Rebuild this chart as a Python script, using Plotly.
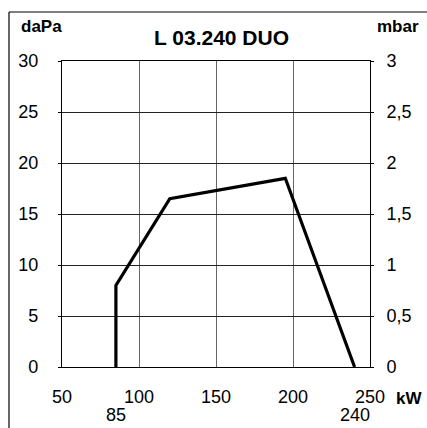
import plotly.graph_objects as go

# Data
power_kw = [85, 85, 120, 195, 240]
pressure_dapa = [0, 8, 16.5, 18.5, 0]

x_ticks = [50, 100, 150, 200, 250]
x_tick_labels = ["50", "100", "150", "200", "250"]
x_extra = [85, 240]
y_left_ticks = [0, 5, 10, 15, 20, 25, 30]
y_right_ticks = [0, 0.5, 1, 1.5, 2, 2.5, 3]
y_right_labels = ["0", "0,5", "1", "1,5", "2", "2,5", "3"]

W, H = 427, 428
ML, MR, MT, MB = 62, 57, 61, 61
pw, ph = W - ML - MR, H - MT - MB

FONT = "Liberation Sans, Arial, Helvetica, sans-serif"

fig = go.Figure()
fig.add_trace(go.Scatter(x=power_kw, y=pressure_dapa, mode="lines",
                         line=dict(color="black", width=3.2),
                         showlegend=False, hoverinfo="skip"))
# invisible trace for right axis
fig.add_trace(go.Scatter(x=[50], y=[0], yaxis="y2", mode="markers",
                         marker=dict(opacity=0), showlegend=False, hoverinfo="skip"))

fig.update_layout(
    width=W, height=H,
    margin=dict(l=ML, r=MR, t=MT, b=MB),
    paper_bgcolor="white", plot_bgcolor="white",
    font=dict(family=FONT, size=18, color="black"),
    xaxis=dict(range=[50, 250], tickvals=x_ticks, ticktext=x_tick_labels,
               showgrid=True, gridcolor="#666", gridwidth=1,
               showline=True, linecolor="black", linewidth=1.2, mirror=True,
               ticks="", ticklabelstandoff=13, zeroline=False, fixedrange=True),
    yaxis=dict(range=[0, 30], tickvals=y_left_ticks,
               showgrid=True, gridcolor="#222", gridwidth=1,
               showline=True, linecolor="black", linewidth=1.2, mirror=True,
               ticks="outside", ticklen=3, tickcolor="black",
               ticklabelstandoff=16, zeroline=False, fixedrange=True),
    yaxis2=dict(range=[0, 3], tickvals=y_right_ticks, ticktext=y_right_labels,
                overlaying="y", side="right", showgrid=False,
                ticks="outside", ticklen=3, tickcolor="black",
                ticklabelstandoff=9, zeroline=False, fixedrange=True),
)

def px_x(px):
    return (px - ML) / pw

def px_y(py):
    return 1 - (py - MT) / ph

annotations = [
    dict(text="<b>L 03.240 DUO</b>", x=px_x(222), y=px_y(37), font=dict(size=21)),
    dict(text="<b>daPa</b>", x=px_x(41), y=px_y(27), font=dict(size=17)),
    dict(text="<b>mbar</b>", x=px_x(398), y=px_y(27), font=dict(size=17)),
    dict(text="<b>kW</b>", x=px_x(409), y=px_y(398), font=dict(size=17)),
]
for a in annotations:
    a.update(xref="paper", yref="paper", showarrow=False, xanchor="center", yanchor="middle")
for v in x_extra:
    annotations.append(dict(text=str(v), x=v, xref="x", y=px_y(415), yref="paper",
                            showarrow=False, xanchor="center", yanchor="middle",
                            font=dict(size=18)))
fig.update_layout(annotations=annotations)

# outer frame (left and top edges visible)
fig.add_shape(type="line", xref="paper", yref="paper",
              x0=px_x(9), x1=px_x(9), y0=px_y(12), y1=px_y(440),
              line=dict(color="black", width=1.2))
fig.add_shape(type="line", xref="paper", yref="paper",
              x0=px_x(9), x1=px_x(440), y0=px_y(12), y1=px_y(12),
              line=dict(color="black", width=1.2))

fig.write_html("out.html", config={"displayModeBar": False},
               post_script="document.body.style.margin='0';document.body.style.overflow='hidden';")
